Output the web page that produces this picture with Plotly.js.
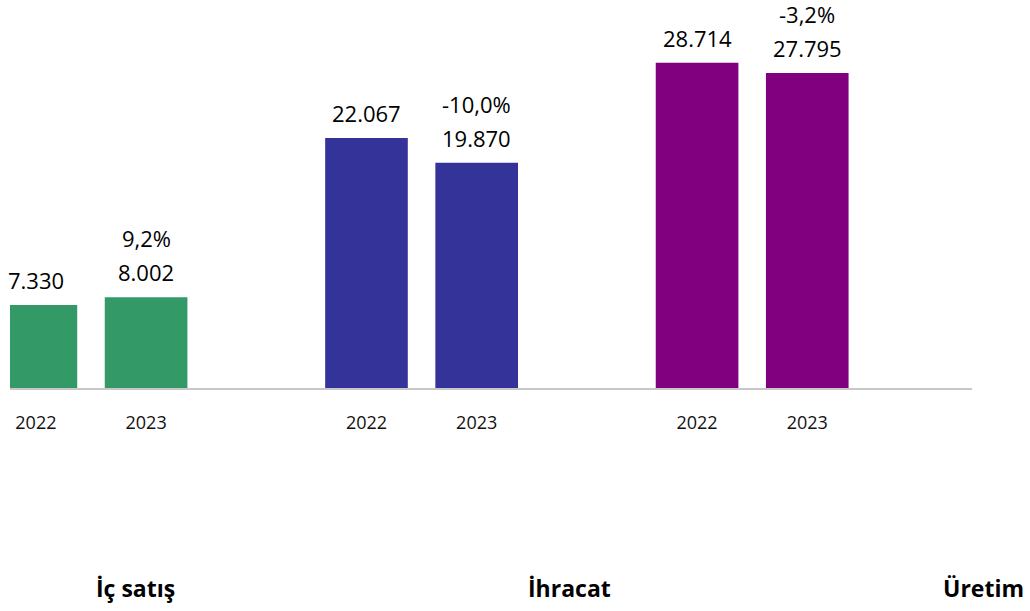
<!DOCTYPE html>
<html>
<head>
<meta charset="utf-8">
<script src="https://cdn.plot.ly/plotly-3.0.1.min.js"></script>
<style>html,body{margin:0;padding:0;background:#fff;}#chart{width:1030px;height:611px;}</style>
</head>
<body>
<div id="chart"></div>
<script>
// Data
const groups = ["İç satış", "İhracat", "Üretim"];
const years = ["2022", "2023"];
const values2022 = [7330, 22067, 28714];
const values2023 = [8002, 19870, 27795];
const valueLabels2022 = ["7.330", "22.067", "28.714"];
const valueLabels2023 = ["8.002", "19.870", "27.795"];
const changeLabels = ["9,2%", "-10,0%", "-3,2%"];
const colors = ["#339966", "#333399", "#800080"];

const xs = [], ys = [], cs = [], labels = [], tickvals = [], ticktext = [];
groups.forEach((g, i) => {
  [values2022[i], values2023[i]].forEach((v, j) => {
    const p = i * 3 + j;
    xs.push(p); ys.push(v); cs.push(colors[i]);
    labels.push(j === 0 ? valueLabels2022[i] : valueLabels2023[i]);
    tickvals.push(p); ticktext.push(years[j]);
  });
});

const annotations = [];
xs.forEach((x, k) => {
  annotations.push({x: x, y: ys[k], xref: 'x', yref: 'y', text: labels[k], showarrow: false,
    yanchor: 'middle', yshift: 25, font: {family: 'Open Sans', size: 22, color: '#000'}});
});
groups.forEach((g, i) => {
  annotations.push({x: i * 3 + 1, y: values2023[i], xref: 'x', yref: 'y', text: changeLabels[i], showarrow: false,
    yanchor: 'middle', yshift: 59, font: {family: 'Open Sans', size: 22, color: '#000'}});
});
const catX = [0.13, 0.582, 1.012];
groups.forEach((g, i) => {
  annotations.push({x: catX[i], y: -0.544, xref: 'paper', yref: 'paper', text: '<b>' + g + '</b>', showarrow: false,
    xanchor: 'center', yanchor: 'middle', font: {family: 'Open Sans', size: 23, color: '#000'}});
});

const trace = {
  type: 'bar', x: xs, y: ys, width: 0.75,
  marker: {color: cs}, hoverinfo: 'none'
};

const layout = {
  width: 1030, height: 611,
  margin: {l: 10, r: 58, t: 20, b: 223},
  paper_bgcolor: '#fff', plot_bgcolor: '#fff',
  showlegend: false,
  xaxis: {range: [-0.235, 8.495], tickvals: tickvals, ticktext: ticktext,
    showgrid: false, zeroline: false, showline: true, linecolor: '#c8c8c8', linewidth: 2,
    ticks: 'outside', ticklen: 17, tickcolor: 'rgba(0,0,0,0)',
    tickfont: {family: 'Open Sans', size: 18, color: '#111'}},
  yaxis: {range: [0, 32480], visible: false, showgrid: false, zeroline: false},
  annotations: annotations
};

Plotly.newPlot('chart', [trace], layout, {displayModeBar: false, staticPlot: true});
</script>
</body>
</html>
